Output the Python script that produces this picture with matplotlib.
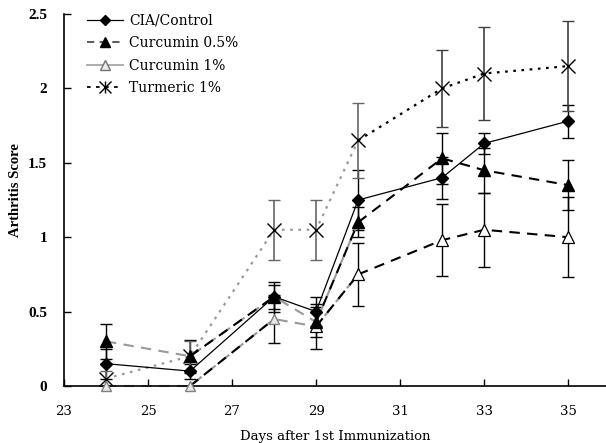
import matplotlib
matplotlib.use("Agg")
import matplotlib.pyplot as plt
from matplotlib.lines import Line2D

# values
days = [24, 26, 28, 29, 30, 32, 33, 35]

control = [0.15, 0.10, 0.60, 0.50, 1.25, 1.40, 1.63, 1.78]
control_err = [0.10, 0.05, 0.10, 0.10, 0.20, 0.14, 0.07, 0.11]

cur05 = [0.30, 0.20, 0.60, 0.43, 1.10, 1.53, 1.45, 1.35]
cur05_err = [0.12, 0.11, 0.08, 0.10, 0.10, 0.17, 0.15, 0.17]

cur1 = [0.00, 0.00, 0.45, 0.40, 0.75, 0.98, 1.05, 1.00]
cur1_err = [0.00, 0.00, 0.16, 0.15, 0.21, 0.24, 0.25, 0.27]

turmeric = [0.05, 0.20, 1.05, 1.05, 1.65, 2.00, 2.10, 2.15]
turmeric_err = [0.05, 0.10, 0.20, 0.20, 0.25, 0.26, 0.31, 0.30]

labels = ["CIA/Control", "Curcumin 0.5%", "Curcumin 1%", "Turmeric 1%"]
xticks = [23, 25, 27, 29, 31, 33, 35]
yticks = [0, 0.5, 1, 1.5, 2, 2.5]
ytick_labels = ["0", "0.5", "1", "1.5", "2", "2.5"]

serif = "DejaVu Serif"
dash = (0, (5, 3.5))
dot = (0, (1.2, 2.5))

fig = plt.figure(figsize=(6.06, 4.43), dpi=100)
ax = fig.add_axes([64 / 606, 57 / 443, 542 / 606, 372 / 443])


def draw_broken(vals, ls, lw, black_early=True):
    # early part drawn gray, some segments overdrawn black (as in the original)
    ax.plot(days[:5], vals[:5], color="0.6", ls=ls, lw=lw, zorder=2, clip_on=False)
    if black_early:
        ax.plot(days[1:3], vals[1:3], color="black", ls=ls, lw=lw, zorder=3, clip_on=False)
        ax.plot(days[3:5], vals[3:5], color="black", ls=ls, lw=lw, zorder=3, clip_on=False)
    ax.plot(days[4:], vals[4:], color="black", ls=ls, lw=lw, zorder=3, clip_on=False)


# error bars
ax.errorbar(days, control, yerr=control_err, fmt="none", ecolor="black",
            elinewidth=1, capsize=4, capthick=1, zorder=1)
ax.errorbar(days, cur05, yerr=cur05_err, fmt="none", ecolor="black",
            elinewidth=1, capsize=4, capthick=1, zorder=1)
ax.errorbar(days[2:], cur1[2:], yerr=cur1_err[2:], fmt="none", ecolor="black",
            elinewidth=1, capsize=4, capthick=1, zorder=1)
ax.errorbar(days[:5], turmeric[:5], yerr=turmeric_err[:5], fmt="none", ecolor="0.4",
            elinewidth=1.2, capsize=4, capthick=1, zorder=1)
ax.errorbar(days[5:], turmeric[5:], yerr=turmeric_err[5:], fmt="none", ecolor="0.25",
            elinewidth=1.2, capsize=4, capthick=1, zorder=1)

# lines
draw_broken(turmeric, dot, 1.6, black_early=False)
draw_broken(cur1, dash, 1.5)
draw_broken(cur05, dash, 1.5)
ax.plot(days, control, color="black", lw=0.9, zorder=4, clip_on=False)

# markers
ax.plot(days, turmeric, ls="none", marker="x", ms=10, mew=1.0, color="black",
        zorder=5, clip_on=False)
ax.plot(days[:3], cur1[:3], ls="none", marker="^", ms=7, mfc="0.9", mec="0.5",
        mew=1.0, zorder=5, clip_on=False)
ax.plot(days[3:], cur1[3:], ls="none", marker="^", ms=8, mfc="white", mec="black",
        mew=0.9, zorder=5, clip_on=False)
ax.plot(days, cur05, ls="none", marker="^", ms=8, color="black", zorder=6, clip_on=False)
ax.plot(days, control, ls="none", marker="D", ms=6, color="black", zorder=7, clip_on=False)

ax.set_xlim(23, 35.9)
ax.set_ylim(0, 2.5)
ax.set_xticks(xticks)
ax.set_yticks(yticks)
ax.set_yticklabels(ytick_labels)
for s in ["top", "right"]:
    ax.spines[s].set_visible(False)
for s in ["left", "bottom"]:
    ax.spines[s].set_linewidth(1.2)
ax.tick_params(axis="both", direction="in", length=5, width=1)
ax.tick_params(axis="x", pad=14)
ax.tick_params(axis="y", pad=12)
for t in ax.get_xticklabels():
    t.set_fontfamily(serif)
    t.set_fontsize(9.5)
for t in ax.get_yticklabels():
    t.set_fontfamily("Liberation Serif")
    t.set_fontsize(11)
    t.set_fontweight("bold")

ax.set_xlabel("Days after 1st Immunization", family=serif, fontsize=9.5, labelpad=8)
fig.text(16 / 606, 1 - 190 / 443, "Arthritis Score", rotation=90, ha="center",
         va="center", family="Liberation Serif", fontweight="bold", fontsize=10.5)

# legend
handles = [
    Line2D([], [], color="black", lw=0.9, marker="D", ms=5),
    Line2D([], [], color="0.3", lw=1.3, ls=(0, (4, 3)), marker="^", ms=7, mfc="black", mec="black"),
    Line2D([], [], color="0.65", lw=1.3, marker="^", ms=7, mfc="0.92", mec="0.45"),
    (Line2D([], [], color="black", lw=1.3, ls=(0, (2, 3))),
     Line2D([], [], ls="none", marker="x", ms=8, color="black"),
     Line2D([], [], ls="none", marker="|", ms=8, color="black")),
]
ax.legend(handles, labels, loc="upper left", bbox_to_anchor=(0.02, 1.035), frameon=False,
          prop={"family": serif, "size": 10}, handlelength=2.6, handletextpad=0.4,
          labelspacing=0.62)

fig.savefig("out.png", dpi=100)
